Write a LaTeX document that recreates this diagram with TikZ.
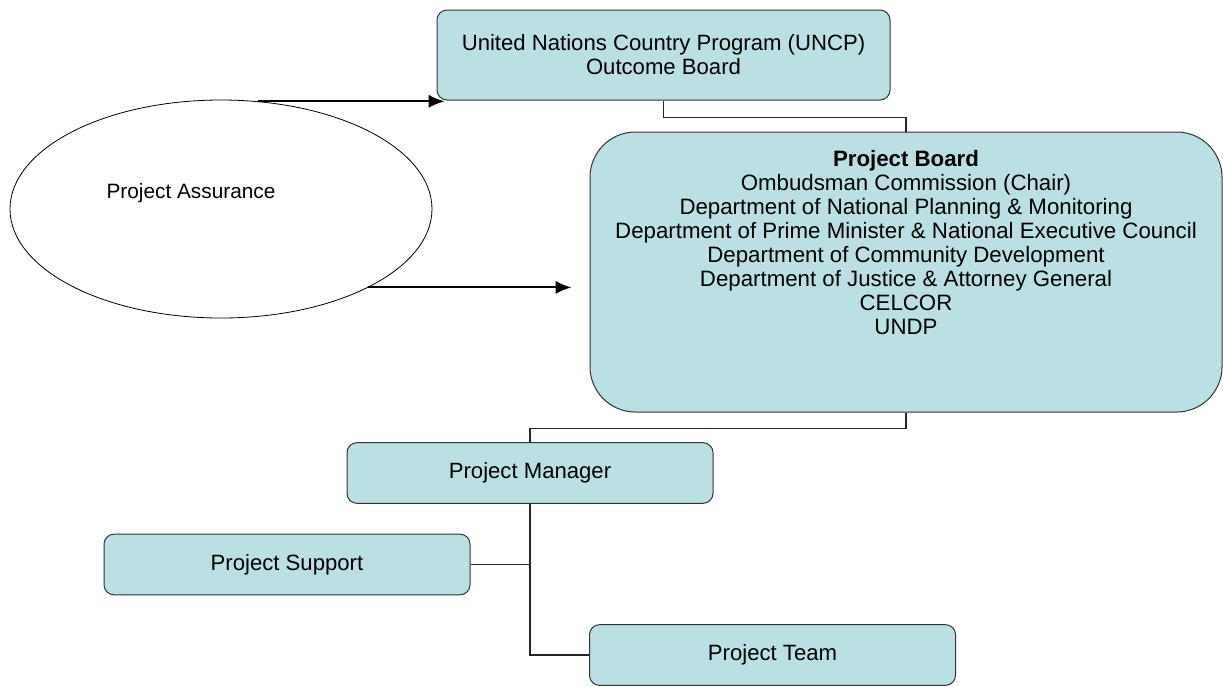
\documentclass[tikz,border=0pt]{standalone}
\usepackage{fontspec}
\setmainfont{Liberation Sans}
\usetikzlibrary{shapes.geometric,arrows.meta}
\definecolor{boxfill}{RGB}{187,224,227}
\begin{document}
\begin{tikzpicture}[x=0.75pt,y=-0.75pt,
  >={Latex[length=12pt,width=10pt]},
  box/.style={draw=black!80,fill=boxfill,rounded corners=7.5pt,line width=0.75pt,
    minimum width=274.5pt,minimum height=45.5pt,inner sep=0pt,align=center,
    font=\fontsize{16.6}{18}\selectfont},
  link/.style={draw=black!85,line width=1pt},
  arrow/.style={->,line width=1.5pt}]
\useasboundingbox (0,0) rectangle (1223,686);
\node[box,minimum width=339.75pt,minimum height=67.5pt] (uncp) at (663.5,55)
  {United Nations Country Program (UNCP)\\Outcome Board};
\node[box,minimum width=474pt,minimum height=210pt,rounded corners=34pt] (board) at (906,272) {};
\node[align=center,font=\fontsize{16.7}{18}\selectfont] (boardtxt) at (906,243)
  {\textbf{Project Board}\\
   Ombudsman Commission (Chair)\\
   Department of National Planning \& Monitoring\\
   Department of Prime Minister \& National Executive Council\\
   Department of Community Development\\
   Department of Justice \& Attorney General\\
   CELCOR\\
   UNDP};
\node[draw,ellipse,line width=0.6pt,minimum width=316.5pt,minimum height=163.5pt,inner sep=0pt] (assur) at (221,209) {};
\node[font=\fontsize{15.6}{18}\selectfont] (assurtxt) at (191,193) {Project Assurance};
\node[box] (pm) at (530,473) {Project Manager};
\node[box] (support) at (287,564.5) {Project Support};
\node[box] (team) at (772.5,655) {Project Team};
\draw[arrow] (assur.71) -- ([xshift=6pt]assur.71 -| uncp.west);
\draw[arrow] (assur.-28) -- ([xshift=-13.5pt]assur.-28 -| board.west);
\draw[link] (uncp.south) -- ++(0,17) -| (board.north);
\draw[link] (board.south) -- ++(0,16) -| (pm.north);
\draw[link] (pm.south) |- (team.west);
\draw[link] (support.east) -- (support.east -| pm.south);
\end{tikzpicture}
\end{document}
